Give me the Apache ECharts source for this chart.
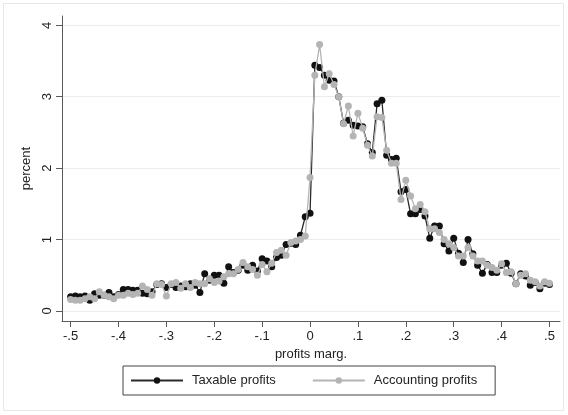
<!DOCTYPE html>
<html>
<head>
<meta charset="utf-8">
<script src="https://cdn.jsdelivr.net/npm/echarts@6/dist/echarts.min.js"></script>
<style>
  html, body { margin: 0; padding: 0; background: #ffffff; }
  #chart { width: 568px; height: 415px; }
</style>
</head>
<body>
<div id="chart"></div>
<script>
// Profit-margin bins (share of firms in each 0.01 bin)
var bins = [
  -0.50, -0.49, -0.48, -0.47, -0.46, -0.45, -0.44, -0.43, -0.42, -0.41,
  -0.40, -0.39, -0.38, -0.37, -0.36, -0.35, -0.34, -0.33, -0.32, -0.31,
  -0.30, -0.29, -0.28, -0.27, -0.26, -0.25, -0.24, -0.23, -0.22, -0.21,
  -0.20, -0.19, -0.18, -0.17, -0.16, -0.15, -0.14, -0.13, -0.12, -0.11,
  -0.10, -0.09, -0.08, -0.07, -0.06, -0.05, -0.04, -0.03, -0.02, -0.01,
   0.00,  0.01,  0.02,  0.03,  0.04,  0.05,  0.06,  0.07,  0.08,  0.09,
   0.10,  0.11,  0.12,  0.13,  0.14,  0.15,  0.16,  0.17,  0.18,  0.19,
   0.20,  0.21,  0.22,  0.23,  0.24,  0.25,  0.26,  0.27,  0.28,  0.29,
   0.30,  0.31,  0.32,  0.33,  0.34,  0.35,  0.36,  0.37,  0.38,  0.39,
   0.40,  0.41,  0.42,  0.43,  0.44,  0.45,  0.46,  0.47,  0.48,  0.49,
   0.50
];

var taxable = [
  0.20, 0.21, 0.20, 0.21, 0.15, 0.24, 0.22, 0.22, 0.26, 0.20,
  0.23, 0.30, 0.30, 0.29, 0.29, 0.25, 0.24, 0.27, 0.37, 0.38,
  0.33, 0.37, 0.33, 0.35, 0.34, 0.38, 0.36, 0.26, 0.52, 0.43,
  0.50, 0.50, 0.39, 0.62, 0.54, 0.57, 0.64, 0.57, 0.64, 0.56,
  0.73, 0.70, 0.62, 0.75, 0.78, 0.93, 0.95, 0.93, 1.06, 1.32,
  1.37, 3.44, 3.41, 3.30, 3.23, 3.22, 3.00, 2.63, 2.67, 2.60,
  2.59, 2.58, 2.34, 2.22, 2.90, 2.95, 2.18, 2.12, 2.14, 1.67,
  1.70, 1.36, 1.36, 1.42, 1.33, 1.02, 1.19, 1.19, 0.94, 0.84,
  1.02, 0.81, 0.68, 1.00, 0.80, 0.64, 0.53, 0.65, 0.54, 0.54,
  0.64, 0.67, 0.53, 0.38, 0.52, 0.49, 0.36, 0.40, 0.31, 0.39,
  0.37
];

var accounting = [
  0.16, 0.15, 0.15, 0.17, 0.20, 0.17, 0.27, 0.22, 0.20, 0.17,
  0.22, 0.22, 0.25, 0.23, 0.25, 0.35, 0.30, 0.22, 0.38, 0.37,
  0.21, 0.38, 0.40, 0.32, 0.38, 0.33, 0.40, 0.38, 0.38, 0.45,
  0.40, 0.42, 0.48, 0.52, 0.52, 0.58, 0.68, 0.62, 0.58, 0.50,
  0.65, 0.55, 0.67, 0.82, 0.85, 0.78, 0.96, 0.98, 1.00, 1.05,
  1.87, 3.30, 3.73, 3.14, 3.32, 3.17, 3.00, 2.62, 2.87, 2.45,
  2.77, 2.56, 2.32, 2.17, 2.72, 2.71, 2.25, 2.07, 2.07, 1.56,
  1.83, 1.61, 1.43, 1.49, 1.39, 1.15, 1.15, 1.10, 1.00, 0.94,
  0.89, 0.77, 0.77, 0.89, 0.77, 0.70, 0.70, 0.64, 0.61, 0.57,
  0.66, 0.54, 0.55, 0.38, 0.50, 0.52, 0.43, 0.41, 0.35, 0.41,
  0.39
];

var xTicks = [-0.5, -0.4, -0.3, -0.2, -0.1, 0, 0.1, 0.2, 0.3, 0.4, 0.5];
var yTicks = [0, 1, 2, 3, 4];

// Stata-style labels: drop the leading zero (".1", "-.3")
function shortLabel(v) {
  if (Math.abs(v) < 1e-9) return '0';
  return v.toFixed(1).replace('0.', '.');
}

function pairs(ys) {
  return bins.map(function (x, i) { return [x, ys[i]]; });
}

var FONT = '"Liberation Sans", Arial, Helvetica, sans-serif';
var AXIS = '#5a5a5a';

var chart = echarts.init(document.getElementById('chart'), null, { renderer: 'canvas' });

chart.setOption({
  animation: false,
  backgroundColor: '#ffffff',
  textStyle: { fontFamily: FONT },
  graphic: [{
    type: 'rect',
    shape: { x: 3.5, y: 3.5, width: 560, height: 407 },
    style: { fill: 'none', stroke: '#e4e8ed', lineWidth: 1 },
    silent: true
  }],
  grid: { left: 62, right: 8, top: 16, bottom: 94, containLabel: false },
  xAxis: {
    type: 'value',
    min: -0.518,
    max: 0.522,
    name: 'profits marg.',
    nameLocation: 'middle',
    nameGap: 25,
    nameTextStyle: { fontSize: 13, color: '#222', fontFamily: FONT },
    axisLine: { show: true, onZero: false, lineStyle: { color: AXIS, width: 1 } },
    axisTick: { show: true, length: 6, customValues: xTicks, lineStyle: { color: AXIS } },
    axisLabel: {
      customValues: xTicks,
      formatter: shortLabel,
      fontSize: 13, color: '#222', margin: 9, fontFamily: FONT
    },
    splitLine: { show: false }
  },
  yAxis: {
    type: 'value',
    min: -0.14,
    max: 4.13,
    name: 'percent',
    nameLocation: 'middle',
    nameGap: 23,
    nameRotate: 90,
    nameTextStyle: { fontSize: 13, color: '#222', fontFamily: FONT },
    axisLine: { show: true, onZero: false, lineStyle: { color: AXIS, width: 1 } },
    axisTick: { show: true, length: 6, customValues: yTicks, lineStyle: { color: AXIS } },
    axisLabel: {
      customValues: yTicks,
      rotate: 90,
      fontSize: 13, color: '#222', margin: 8, fontFamily: FONT
    },
    splitLine: { show: true, lineStyle: { color: '#ececec', width: 1 } }
  },
  legend: {
    left: 123,
    top: 366,
    orient: 'horizontal',
    itemWidth: 52,
    itemHeight: 8,
    itemGap: 36,
    padding: [8, 18, 8, 7],
    borderColor: '#444',
    borderWidth: 1,
    textStyle: { fontSize: 13, color: '#222', fontFamily: FONT, padding: [0, 0, 0, 4] },
    data: ['Taxable profits', 'Accounting profits']
  },
  series: [
    {
      name: 'Taxable profits',
      type: 'line',
      data: pairs(taxable),
      symbol: 'circle',
      symbolSize: 7,
      showSymbol: true,
      lineStyle: { color: '#2a2a2a', width: 1.3 },
      itemStyle: { color: '#111111' },
      z: 2
    },
    {
      name: 'Accounting profits',
      type: 'line',
      data: pairs(accounting),
      symbol: 'circle',
      symbolSize: 7,
      showSymbol: true,
      lineStyle: { color: '#b4b4b4', width: 1.3 },
      itemStyle: { color: '#b4b4b4' },
      z: 3
    }
  ]
});
</script>
</body>
</html>
